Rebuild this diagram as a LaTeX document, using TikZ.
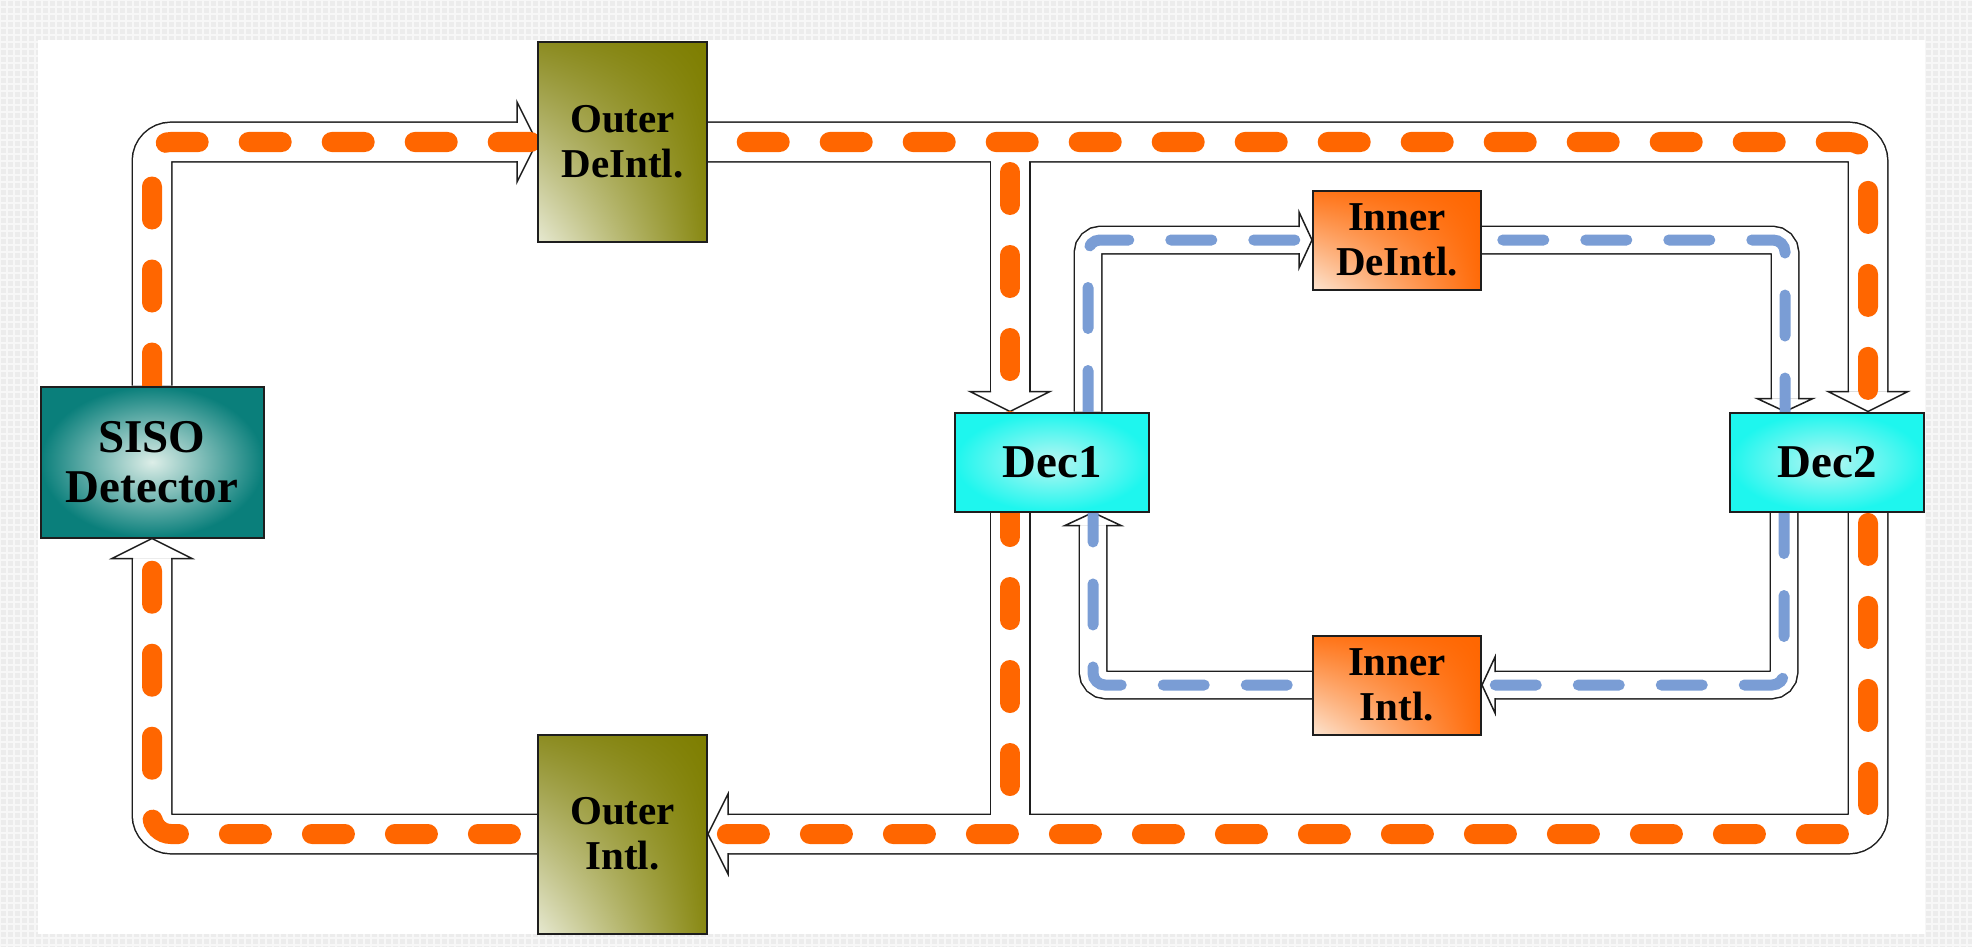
\documentclass[tikz,border=0pt]{standalone}
\usepackage{fontspec}
\setmainfont{Liberation Serif}
\usetikzlibrary{calc,shadings}
\definecolor{orng}{HTML}{FF6600}
\definecolor{blu}{HTML}{7A9DD5}
\definecolor{bgcol}{HTML}{ECECEC}
\definecolor{gridcol}{HTML}{F7F7F7}
\definecolor{edge}{HTML}{1E1E1E}
\definecolor{HTML-siso-in}{HTML}{DDEEE8}
\definecolor{HTML-siso-out}{HTML}{0A7F7B}
\definecolor{dec-in}{HTML}{B8F6F2}
\definecolor{dec-out}{HTML}{1EF6EE}
\definecolor{olv-ll}{HTML}{E6E8D0}
\definecolor{olv-ul}{HTML}{8C8C22}
\definecolor{olv-ur}{HTML}{7E7E00}
\definecolor{olv-lr}{HTML}{888812}
\definecolor{org-ll}{HTML}{FCE4D0}
\definecolor{org-ul}{HTML}{FF7418}
\definecolor{org-ur}{HTML}{FF6600}
\definecolor{org-lr}{HTML}{FF6A08}
\pgfdeclarelayer{bg}
\pgfsetlayers{bg,main}
\tikzset{
  box/.style={draw=edge, line width=2pt, inner sep=0pt, align=center, text=black,
    font=\bfseries\fontsize{41pt}{45pt}\selectfont},
  bigtext/.style={font=\bfseries\fontsize{47pt}{50pt}\selectfont},
  sisobox/.style={box, bigtext, minimum width=223pt, minimum height=151pt,
    inner color=HTML-siso-in, outer color=HTML-siso-out},
  decbox/.style={box, bigtext, minimum width=194pt, minimum height=99pt,
    inner color=dec-in, outer color=dec-out},
  olivebox/.style={box, minimum width=169pt, minimum height=199pt,
    shading=bilinear interpolation,
    lower left=olv-ll, upper left=olv-ul, upper right=olv-ur, lower right=olv-lr},
  orangebox/.style={box, minimum width=168pt, minimum height=99pt,
    shading=bilinear interpolation,
    lower left=org-ll, upper left=org-ul, upper right=org-ur, lower right=org-lr},
  obandk/.style={draw=edge, line width=41pt, rounded corners=19pt},
  obandw/.style={draw=white, line width=38pt, rounded corners=19pt},
  bbandk/.style={draw=edge, line width=29pt, rounded corners=13pt},
  bbandw/.style={draw=white, line width=26pt, rounded corners=13pt},
  odash/.style={draw=orng, line width=20pt, line cap=round,
    dash pattern=on 33pt off 50pt, rounded corners=19pt},
  bdash/.style={draw=blu, line width=11pt, line cap=round,
    dash pattern=on 41pt off 42pt, rounded corners=12pt},
  ohead/.pic={\filldraw[fill=white, draw=edge, line width=1.5pt, line join=miter]
    (-20,-19) -- (-20,-40) -- (0,0) -- (-20,40) -- (-20,19);},
  bhead/.pic={\filldraw[fill=white, draw=edge, line width=1.5pt, line join=miter]
    (-13,-13) -- (-13,-28) -- (0,0) -- (-13,28) -- (-13,13);},
}
\begin{document}
\begin{tikzpicture}[x=1pt,y=-1pt]
\useasboundingbox (0,0) rectangle (1972,947);
% nodes
\node[sisobox] (siso) at (152,462) {SISO\\Detector};
\node[olivebox] (odi) at (622.5,142) {Outer\\DeIntl.};
\node[olivebox] (oi) at (622.5,834) {Outer\\Intl.};
\node[decbox] (dec1) at (1052,462) {Dec1};
\node[decbox] (dec2) at (1827,462) {Dec2};
\node[orangebox] (idi) at (1397,240) {Inner\\DeIntl.};
\node[orangebox] (ii) at (1397,685) {Inner\\Intl.};
% ports
\coordinate (d1a) at ($(dec1.north)+(-42,0)$);
\coordinate (d1b) at ($(dec1.south)+(-42,0)$);
\coordinate (d1c) at ($(dec1.north)+(36,0)$);
\coordinate (d1d) at ($(dec1.south)+(41,0)$);
\coordinate (d2a) at ($(dec2.north)+(41,0)$);
\coordinate (d2b) at ($(dec2.south)+(41,0)$);
\coordinate (d2c) at ($(dec2.north)+(-42,0)$);
\coordinate (d2d) at ($(dec2.south)+(-43,0)$);
\begin{pgfonlayer}{bg}
  % background
  \fill[bgcol] (0,0) rectangle (1972,947);
  \foreach \gx in {0,7,...,1972} \draw[gridcol, line width=1.5pt] (\gx,0) -- (\gx,947);
  \foreach \gy in {0,7,...,947} \draw[gridcol, line width=1.5pt] (0,\gy) -- (1972,\gy);
  \fill[white] (38,40) rectangle (1925,934);
  % orange bands
  \foreach \st in {obandk,obandw}{
    \draw[\st] (siso.north) |- ($(odi.west)+(-20,0)$);
    \draw[\st] (odi.east) -| ($(d2a)+(0,-20)$);
    \draw[\st] (d1a |- odi.east) -- ($(d1a)+(0,-20)$);
    \draw[\st] (d2b) |- ($(oi.east)+(20,0)$);
    \draw[\st] (d1b) -- (d1b |- oi.east);
    \draw[\st] (oi.west) -| ($(siso.south)+(0,20)$);
  }
  % blue bands
  \foreach \st in {bbandk,bbandw}{
    \draw[\st] (d1c) |- ($(idi.west)+(-13,0)$);
    \draw[\st] (idi.east) -| ($(d2c)+(0,-13)$);
    \draw[\st] (d2d) |- ($(ii.east)+(13,0)$);
    \draw[\st] (ii.west) -| ($(d1d)+(0,13)$);
  }
  % arrow heads
  \path (odi.west) pic {ohead};
  \path (d1a) pic[rotate=-90] {ohead};
  \path (d2a) pic[rotate=-90] {ohead};
  \path (oi.east) pic[rotate=180] {ohead};
  \path (siso.south) pic[rotate=90] {ohead};
  \path (idi.west) pic {bhead};
  \path (d2c) pic[rotate=-90] {bhead};
  \path (ii.east) pic[rotate=180] {bhead};
  \path (d1d) pic[rotate=90] {bhead};
  % dashed flows
  \draw[odash] (siso.north) |- (d2a |- odi.east) -- (d2b |- oi.east) -| (siso.south);
  \draw[odash] ($(d1a |- odi.east)+(0,30)$) -- ($(d1b |- oi.east)+(0,-30)$);
  \draw[bdash] (d1c) |- (d2c |- idi.east) -- (d2c);
  \draw[bdash] (d2d) |- (d1d |- ii.west) -- (d1d);
\end{pgfonlayer}
\end{tikzpicture}
\end{document}
